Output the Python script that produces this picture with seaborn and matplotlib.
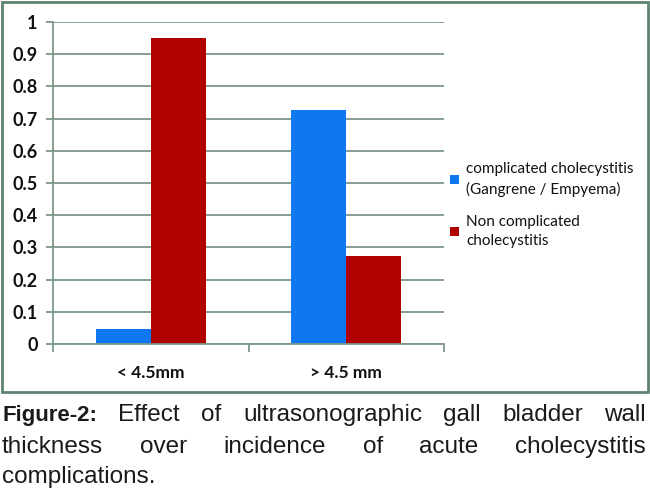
import matplotlib
matplotlib.use("Agg")
import matplotlib.pyplot as plt
import seaborn as sns
import pandas as pd
from matplotlib.patches import Rectangle

categories = ["< 4.5mm", "> 4.5 mm"]
series_names = ["complicated cholecystitis\n(Gangrene / Empyema)", "Non complicated\ncholecystitis"]
complicated = [0.048, 0.727]
non_complicated = [0.951, 0.272]
yticks = [0, 0.1, 0.2, 0.3, 0.4, 0.5, 0.6, 0.7, 0.8, 0.9, 1]
ytick_labels = ["0", "0.1", "0.2", "0.3", "0.4", "0.5", "0.6", "0.7", "0.8", "0.9", "1"]
colors = ["#0f78f0", "#b00000"]

caption_lines = [
    ["Figure-2:", "Effect", "of", "ultrasonographic", "gall", "bladder", "wall"],
    ["thickness", "over", "incidence", "of", "acute", "cholecystitis"],
    ["complications."],
]

df = pd.DataFrame({
    "cat": categories * 2,
    "val": complicated + non_complicated,
    "series": [series_names[0]] * 2 + [series_names[1]] * 2,
})

sns.set_theme(style="white")
plt.rcParams["font.family"] = ["Lato", "DejaVu Sans"]

W, H = 650, 492
fig = plt.figure(figsize=(6.5, 4.92), dpi=100)
ax = fig.add_axes([53 / W, 1 - 344 / H, (444 - 53) / W, (344 - 22) / H])

sns.barplot(data=df, x="cat", y="val", hue="series", palette=colors,
            width=0.565, ax=ax, saturation=1, edgecolor="none", linewidth=0)

grid_c = "#7d9788"
ax.set_ylim(0, 1)
ax.set_xlim(-0.5, 1.5)
ax.set_yticks(yticks)
ax.set_yticklabels(ytick_labels, fontsize=13, fontweight="bold", color="#111111")
ax.yaxis.grid(True, color=grid_c, linewidth=1.3)
ax.set_axisbelow(True)
ax.set_xlabel("")
ax.set_ylabel("")
ax.set_xticks([0, 1])
ax.set_xticklabels(categories, fontsize=12.5, fontweight="bold", color="#111111")
ax.tick_params(axis="x", length=0, pad=15)
ax.tick_params(axis="y", length=5, width=1.3, color=grid_c, left=True, pad=6)
ax.set_xticks([-0.5, 0.5, 1.5], minor=True)
ax.tick_params(axis="x", which="minor", length=6, width=1.3, color=grid_c, bottom=True)
for s in ["top", "right"]:
    ax.spines[s].set_visible(False)
for s in ["left", "bottom"]:
    ax.spines[s].set_color(grid_c)
    ax.spines[s].set_linewidth(1.3)

handles, labels = ax.get_legend_handles_labels()
leg = ax.legend(handles, labels, loc="upper left", bbox_to_anchor=(444 / W, 1 - 156 / H),
                bbox_transform=fig.transFigure, frameon=False, fontsize=11,
                handlelength=0.6, handleheight=0.6, handletextpad=0.45,
                labelspacing=1.2, borderaxespad=0)
for t in leg.get_texts():
    t.set_color("#111111")
    t.set_linespacing(1.45)

fig.patches.append(Rectangle((1.5 / W, 1 - 392 / H), 646.5 / W, 390 / H,
                             transform=fig.transFigure, fill=False,
                             edgecolor="#5f8470", linewidth=2))

fig.canvas.draw()
renderer = fig.canvas.get_renderer()
cap_family = ["Liberation Sans", "DejaVu Sans"]
x_left, x_right = 2, 646
baselines = [421, 453, 483]
for li, words in enumerate(caption_lines):
    texts = []
    for wi, w in enumerate(words):
        bold = (li == 0 and wi == 0)
        t = fig.text(0, 0, w, fontsize=16 if bold else 17.5, family=cap_family,
                     fontweight="bold" if bold else "normal",
                     color="#1a1a1a", transform=None, va="baseline", ha="left")
        texts.append(t)
    widths = [t.get_window_extent(renderer).width for t in texts]
    if li < len(caption_lines) - 1 and len(words) > 1:
        gap = (x_right - x_left - sum(widths)) / (len(words) - 1)
    else:
        gap = 6
    x = x_left
    y_px = H - baselines[li]
    for t, w in zip(texts, widths):
        t.set_position((x, y_px))
        x += w + gap

fig.savefig("out.png", dpi=100)
